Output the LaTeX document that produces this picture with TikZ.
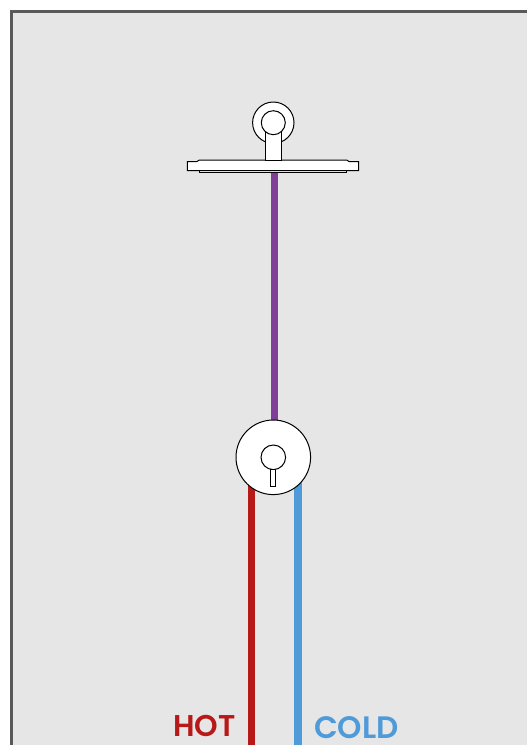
\documentclass[tikz,border=0pt]{standalone}
\usepackage{fontspec}
\newfontfamily\labelfont{Poppins SemiBold}
\usetikzlibrary{positioning, backgrounds}
\definecolor{wallgray}{HTML}{E6E6E6}
\definecolor{framegray}{HTML}{595959}
\definecolor{mixedpipe}{HTML}{7F3F98}
\definecolor{hotpipe}{HTML}{B71818}
\definecolor{coldpipe}{HTML}{4F9BD9}

\begin{document}
\begin{tikzpicture}[x=1pt, y=-1pt, line width=1pt,
    part/.style={draw=black, fill=white, inner sep=0pt, outer sep=0pt},
    round part/.style={part, circle, minimum size=#1},
    pipe/.style={line width=7.2pt, draw=#1},
    pipelabel/.style={font=\labelfont\fontsize{#1}{#1}\selectfont, inner sep=0pt}]
    \useasboundingbox (0,0) rectangle (527,745);

    \coordinate (hotend) at (251.7,745);
    \coordinate (coldend) at (297.9,745);

    % shower head
    \node[round part=41.4pt] (wallring) at (273.3,122.7) {};
    \node[part, minimum width=147.6pt, minimum height=2.4pt] (platebase) at (273,171.5) {};
    \draw[part] (187.3,161.7) -- (196.7,161.7) -- (199.3,160) -- (346.7,160) -- (349.3,161.7)
        -- (358.7,161.7) -- (358.7,170.7) -- (187.3,170.7) -- cycle;
    \node[part, minimum width=16pt, minimum height=38pt] (arm) at (273,141.6) {};
    \node[round part=24pt] (wallcap) at (wallring) {};

    % mixer
    \node[round part=74.6pt] (mixer) at (273.3,457.3) {};
    \node[round part=24.6pt] (knob) at (mixer) {};
    \node[part, minimum width=5.3pt, minimum height=17pt] (lever) at (273.3,477.8) {};

    % pipes run behind the fittings
    \begin{pgfonlayer}{background}
    \fill[wallgray] (11,11) rectangle (527,745);
    \draw[framegray, line width=2.6pt] (11.2,745) -- (11.2,11.2) -- (527,11.2);
    \draw[pipe=mixedpipe] (platebase.south -| 274.2,0) -- (mixer.center -| 274.2,0);
    \draw[pipe=hotpipe] (hotend) -- (hotend |- mixer.center);
    \draw[pipe=coldpipe] (coldend) -- (coldend |- mixer.center);
    \end{pgfonlayer}

    \node[pipelabel=30, text=hotpipe] (hot) at (204.5,725.5) {HOT};
    \node[pipelabel=31, text=coldpipe] (cold) at (356.3,727.5) {COLD};
\end{tikzpicture}
\end{document}
